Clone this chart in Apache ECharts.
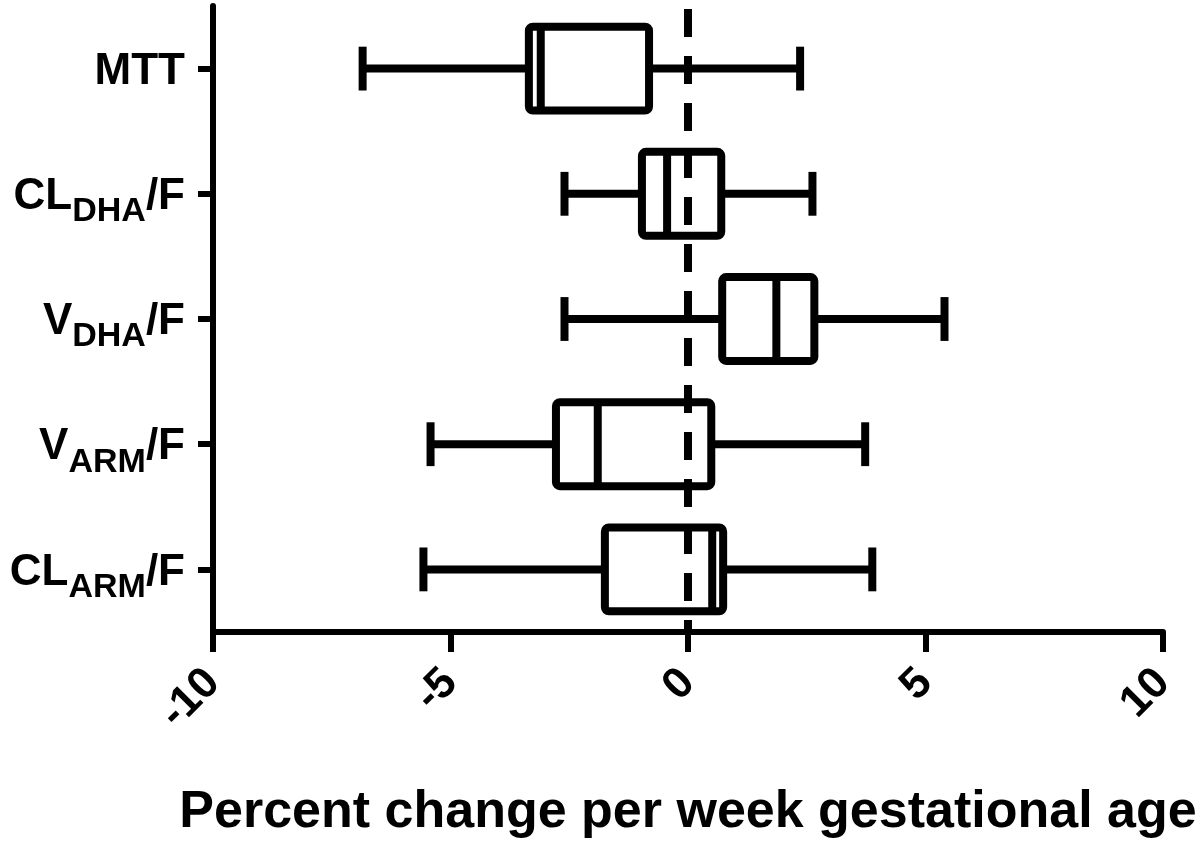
<!DOCTYPE html>
<html>
<head>
<meta charset="utf-8">
<script src="https://cdn.jsdelivr.net/npm/echarts@6/dist/echarts.min.js"></script>
<style>
  html, body { margin: 0; padding: 0; background: #fff; }
  #chart { width: 1200px; height: 845px; }
</style>
</head>
<body>
<div id="chart"></div>
<script>
const FONT = '"Liberation Sans", Arial, sans-serif'

// categories, top to bottom
const categories = ['MTT', 'CL_DHA/F', 'V_DHA/F', 'V_ARM/F', 'CL_ARM/F']
const labelMain = ['MTT', 'CL', 'V', 'V', 'CL']
const labelSub = ['', 'DHA', 'DHA', 'ARM', 'ARM']

// percent change per week gestational age
const whiskerLow = [-6.85, -2.6, -2.6, -5.42, -5.57]
const q1 = [-3.35, -0.97, 0.72, -2.78, -1.75]
const median = [-3.1, -0.44, 1.86, -1.9, 0.51]
const q3 = [-0.82, 0.7, 2.66, 0.49, 0.74]
const whiskerHigh = [2.36, 2.62, 5.4, 3.73, 3.88]

const xTicks = { min: -10, max: 10, interval: 5 }

const rows = categories.map((c, i) => [i, whiskerLow[i], q1[i], median[i], q3[i], whiskerHigh[i]])

const chart = echarts.init(document.getElementById('chart'))

function renderBox(params, api) {
  const yi = api.value(0)
  const lo = api.coord([api.value(1), yi])
  const b1 = api.coord([api.value(2), yi])
  const md = api.coord([api.value(3), yi])
  const b3 = api.coord([api.value(4), yi])
  const hi = api.coord([api.value(5), yi])
  const band = api.size([0, 1])[1]
  const bh = band * 0.67
  const ch = band * 0.35
  const y = lo[1]
  const st = { stroke: '#000', lineWidth: 8, fill: 'none' }
  return {
    type: 'group',
    children: [
      { type: 'line', shape: { x1: lo[0], y1: y, x2: b1[0], y2: y }, style: st },
      { type: 'line', shape: { x1: b3[0], y1: y, x2: hi[0], y2: y }, style: st },
      { type: 'line', shape: { x1: lo[0], y1: y - ch / 2, x2: lo[0], y2: y + ch / 2 }, style: st },
      { type: 'line', shape: { x1: hi[0], y1: y - ch / 2, x2: hi[0], y2: y + ch / 2 }, style: st },
      { type: 'rect', shape: { x: b1[0], y: y - bh / 2, width: b3[0] - b1[0], height: bh, r: 4 }, style: st },
      { type: 'line', shape: { x1: md[0], y1: y - bh / 2, x2: md[0], y2: y + bh / 2 }, style: st },
    ],
  }
}

chart.setOption({
  animation: false,
  grid: { left: 213, right: 37, top: 6, bottom: 213, containLabel: false },
  xAxis: {
    type: 'value',
    min: xTicks.min, max: xTicks.max, interval: xTicks.interval,
    name: 'Percent change per week gestational age',
    nameLocation: 'middle',
    nameGap: 155,
    nameTextStyle: { fontSize: 52, fontWeight: 'bold', color: '#000', fontFamily: FONT },
    axisLine: { show: true, onZero: false, lineStyle: { color: '#000', width: 6 } },
    axisTick: { show: true, length: 20, lineStyle: { color: '#000', width: 6 } },
    axisLabel: {
      rotate: 45, margin: 44,
      fontSize: 44, fontWeight: 'bold', color: '#000', fontFamily: FONT,
    },
    splitLine: { show: false },
  },
  yAxis: {
    type: 'category',
    inverse: true,
    data: categories,
    axisLine: { show: true, onZero: false, lineStyle: { color: '#000', width: 6 } },
    axisTick: { show: true, alignWithLabel: true, length: 15, lineStyle: { color: '#000', width: 6 } },
    axisLabel: {
      margin: 28,
      padding: [6, 0, 0, 0],
      formatter: (v, i) => labelSub[i]
        ? `{m|${labelMain[i]}}{s|${labelSub[i]}}{m|/F}`
        : `{m|${labelMain[i]}}`,
      rich: {
        m: { fontSize: 44, fontWeight: 'bold', color: '#000', fontFamily: FONT, lineHeight: 44 },
        s: { fontSize: 34, fontWeight: 'bold', color: '#000', fontFamily: FONT, lineHeight: 34,
             padding: [20, 0, 0, 0], verticalAlign: 'top' },
      },
    },
    splitLine: { show: false },
  },
  series: [{
    type: 'custom',
    renderItem: renderBox,
    encode: { x: [1, 2, 3, 4, 5], y: 0 },
    data: rows,
    z: 3,
    markLine: {
      silent: true,
      symbol: 'none',
      label: { show: false },
      lineStyle: { color: '#000', width: 8, type: [28, 19], dashOffset: 44 },
      data: [{ xAxis: 0 }],
    },
  }],
})
</script>
</body>
</html>
